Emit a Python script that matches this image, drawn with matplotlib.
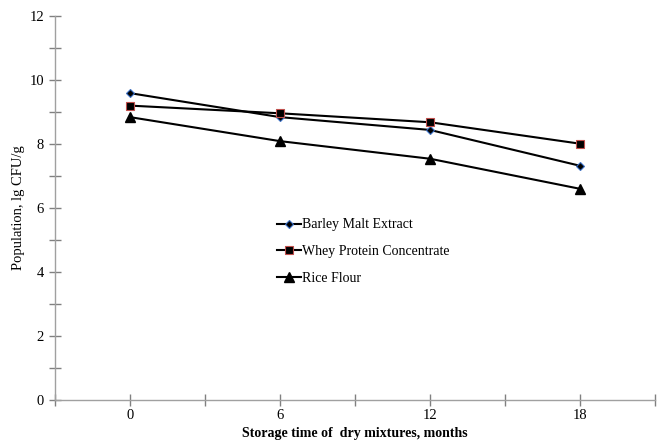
import matplotlib.pyplot as plt
import numpy as np

plt.rcParams['font.family'] = ['Liberation Serif', 'DejaVu Serif']

months = ["0", "6", "12", "18"]
barley = [9.58, 8.83, 8.43, 7.31]
whey = [9.19, 8.95, 8.67, 8.00]
rice = [8.83, 8.08, 7.53, 6.59]

fig = plt.figure(figsize=(6.64, 4.41), dpi=100)
ax = fig.add_axes([0.0828, 0.0937, 0.9036, 0.8707])

x = np.arange(len(months))
ax.plot(x, barley, color='black', lw=1.5, marker='D', ms=4.5,
        mfc='black', mec='#3a6fc4', mew=0.8, label='Barley Malt Extract')
ax.plot(x, whey, color='black', lw=1.5, marker='s', ms=6,
        mfc='black', mec='#c0504d', mew=0.8, label='Whey Protein Concentrate')
ax.plot(x, rice, color='black', lw=1.5, marker='^', ms=7,
        mfc='black', mec='black', label='Rice Flour')

ax.set_xlim(-0.5, 3.5)
ax.set_ylim(0, 12)
ax.set_xticks(x)
ax.set_xticklabels(months)
ax.set_xticks(np.arange(-0.5, 3.6, 1.0), minor=True)
ax.set_yticks(np.arange(0, 13, 2))
ax.set_yticks(np.arange(1, 12, 2), minor=True)

for s in ['top', 'right']:
    ax.spines[s].set_visible(False)
for s in ['left', 'bottom']:
    ax.spines[s].set_color('#a0a0a0')
    ax.spines[s].set_linewidth(1.0)

ax.tick_params(which='both', direction='inout', length=8, width=1.0,
               color='#808080', labelsize=10.5)
ax.tick_params(axis='x', pad=3)
ax.tick_params(axis='y', pad=4)

ax.set_xlabel("Storage time of  dry mixtures, months", fontsize=10,
              fontweight='bold', labelpad=3)
ax.set_ylabel("Population, lg CFU/g", fontsize=10.5, labelpad=3)

ax.legend(loc='center left', bbox_to_anchor=(0.37, 0.385), frameon=False,
          fontsize=10, handlelength=1.7, handletextpad=0.1,
          labelspacing=1.0, borderpad=0, borderaxespad=0)

fig.savefig('out.png', dpi=100)
